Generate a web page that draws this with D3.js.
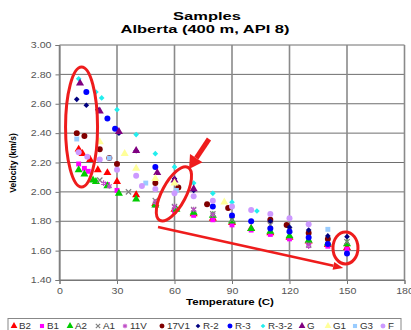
<!DOCTYPE html>
<html>
<head>
<meta charset="utf-8">
<script src="https://cdn.jsdelivr.net/npm/d3@7"></script>
<style>
  body { margin: 0; background: #fff; }
  text { font-family: "Liberation Sans", Arial, sans-serif; }
</style>
</head>
<body>
<div id="chart"></div>
<script>
// velocity (km/s) vs temperature (C), one array per sample
const B2   = [[10,2.29],[12,2.26],[16,2.22],[20,2.15],[25,2.13],[30,2.07],[40,1.98],[50,1.92],[60,1.88],[70,1.85],[80,1.82],[90,1.79],[100,1.75],[110,1.72],[120,1.69],[130,1.665],[140,1.64],[150,1.62]];
const B1   = [[10,2.19],[13,2.16],[15,2.14],[25,2.05],[30,2.01],[50,1.91],[60,1.87],[70,1.84],[80,1.81],[90,1.775],[100,1.74],[110,1.71],[120,1.68],[130,1.655],[140,1.63],[150,1.61]];
const A2   = [[10,2.15],[13,2.12],[17.5,2.08],[19,2.07],[25,2.04],[31,1.99],[40,1.95],[50,1.91],[61,1.88],[70,1.86],[80,1.84],[90,1.80],[100,1.75],[110,1.73],[120,1.70],[130,1.67],[140,1.65],[150,1.645]];
const A1   = [[21,2.08],[36,2.00],[50,1.94],[60,1.90],[70,1.88],[80,1.85],[90,1.81],[110,1.775],[120,1.74],[130,1.64],[150,1.66]];
const V11  = [[23,2.06],[26,2.04],[50,1.93],[60,1.90],[70,1.88],[80,1.845],[130,1.63]];
const V17  = [[9,2.40],[13,2.38],[21,2.29],[26,2.23],[30,2.19],[50,2.06],[62,2.03],[77,1.915],[88,1.89],[110,1.81],[118.5,1.775],[130,1.72],[140,1.68]];
const R2   = [[9,2.63],[14,2.59],[20,2.56],[31,2.40],[40,2.28],[60,2.09],[70,2.01],[110,1.80],[120,1.76],[130,1.74],[140,1.70],[150,1.695]];
const R3   = [[14,2.68],[25,2.50],[29,2.43],[50,2.17],[80,1.90],[90,1.84],[100,1.80],[110,1.75],[120,1.73],[130,1.69],[140,1.645],[150,1.58]];
const R32  = [[10,2.77],[19,2.68],[22,2.64],[30,2.56],[40,2.39],[50,2.26],[60,2.17],[70,2.06],[80,1.99],[90,1.93],[103,1.87]];
const G    = [[10.7,2.74],[21,2.55],[31,2.41],[40,2.28],[51,2.13],[60,2.08],[70,2.02]];
const G1   = [[21,2.34],[34,2.26],[40,2.16],[50,2.09],[60,2.06],[86,1.93]];
const G3   = [[9,2.36],[26,2.23],[45,2.06],[61,2.01],[140,1.745]];
const F    = [[10,2.27],[14.5,2.24],[21,2.22],[30,2.15],[40,2.11],[43,2.04],[50,2.02],[60,1.99],[70,1.97],[80,1.94],[90,1.90],[100,1.877],[110,1.85],[120,1.82],[130,1.78]];

const seriesNames = ["B2","B1","A2","A1","11V","17V1","R-2","R-3","R-3-2","G","G1","G3","F"];
const seriesData  = [B2, B1, A2, A1, V11, V17, R2, R3, R32, G, G1, G3, F];
const seriesColors = ["#ff0000","#ff00ff","#00cc00","#808080","#c050c8","#800000","#000080","#0000ff","#22eeee","#800080","#ffff99","#99ccff","#cc99ff"];
const seriesShapes = ["triangle","square","triangle","times","asterisk","circle","diamond","circle","diamond","triangle","triangle","square","circle"];

const xTicks = [0, 30, 60, 90, 120, 150, 180];
const yTicks = [1.4, 1.6, 1.8, 2.0, 2.2, 2.4, 2.6, 2.8, 3.0];

const width = 411, height = 330;
const svg = d3.select("#chart").append("svg")
  .attr("width", width).attr("height", height);

const x = d3.scaleLinear().domain([0, 180]).range([59.5, 404.5]);
const y = d3.scaleLinear().domain([1.4, 3.0]).range([280, 45]);

// stretch text horizontally (the picture is wider than tall text)
function stretch(sel, k) {
  sel.each(function () {
    const w = this.getComputedTextLength();
    d3.select(this).attr("textLength", w * k).attr("lengthAdjust", "spacingAndGlyphs");
  });
}

// gridlines
svg.append("g").selectAll("line").data(yTicks).join("line")
  .attr("x1", x(0)).attr("x2", x(180))
  .attr("y1", d => y(d)).attr("y2", d => y(d))
  .attr("stroke", "#6e6e6e").attr("stroke-width", 1);
svg.append("g").selectAll("line").data(xTicks).join("line")
  .attr("x1", d => x(d)).attr("x2", d => x(d))
  .attr("y1", y(1.4)).attr("y2", y(3.0))
  .attr("stroke", "#8a8a8a").attr("stroke-width", 1.6);

// axes
const yAxis = svg.append("g")
  .attr("transform", `translate(${x(0)},0)`)
  .call(d3.axisLeft(y).tickValues(yTicks).tickFormat(d3.format(".2f")).tickSize(4).tickPadding(4));
const xAxis = svg.append("g")
  .attr("transform", `translate(0,${y(1.4)})`)
  .call(d3.axisBottom(x).tickValues(xTicks).tickSize(4).tickPadding(4));
[xAxis, yAxis].forEach(a => {
  a.select(".domain").attr("stroke", "#777");
  a.selectAll(".tick line").attr("stroke", "#777");
  a.selectAll("text").attr("font-size", 8.5).attr("fill", "#555")
    .attr("font-family", "Liberation Sans, Arial, sans-serif");
  stretch(a.selectAll("text"), 1.25);
});

// points
function symbolOf(s) {
  return {
    triangle: d3.symbolTriangle, square: d3.symbolSquare, circle: d3.symbolCircle,
    diamond: d3.symbolSquare, times: d3.symbolTimes, asterisk: d3.symbolAsterisk
  }[s];
}
function sizeOf(s) {
  return { triangle: 28, square: 24, circle: 28, diamond: 16, times: 20, asterisk: 22 }[s];
}
function drawMark(sel, i, k = 1) {
  const s = seriesShapes[i];
  const stroked = s === "times" || s === "asterisk";
  sel.attr("d", d3.symbol().type(symbolOf(s)).size(sizeOf(s) * k))
    .attr("fill", stroked ? "none" : seriesColors[i])
    .attr("stroke", stroked ? seriesColors[i] : "none")
    .attr("stroke-width", stroked ? 1.2 : 0);
}
seriesData.forEach((data, i) => {
  const rot = seriesShapes[i] === "diamond" ? " rotate(45)" : "";
  svg.append("g").selectAll("path").data(data).join("path")
    .attr("transform", d => `translate(${x(d[0])},${y(d[1])})${rot}`)
    .call(drawMark, i);
});

// titles
svg.append("text").attr("x", 207).attr("y", 20).attr("text-anchor", "middle")
  .attr("font-size", 11).attr("font-weight", "bold").text("Samples")
  .call(stretch, 1.5);
svg.append("text").attr("x", 205).attr("y", 33).attr("text-anchor", "middle")
  .attr("font-size", 11).attr("font-weight", "bold").text("Alberta (400 m, API 8)")
  .call(stretch, 1.5);
svg.append("text").attr("x", 230).attr("y", 305).attr("text-anchor", "middle")
  .attr("font-size", 8.5).attr("font-weight", "bold").text("Temperature (C)")
  .call(stretch, 1.35);
svg.append("text").attr("transform", "translate(16,163) rotate(-90)").attr("text-anchor", "middle")
  .attr("font-size", 8.5).attr("font-weight", "bold").text("Velocity (km/s)");

// legend
const legendX = [14, 42, 70, 98, 125, 162, 198, 230, 263, 302, 328, 355, 383];
svg.append("rect").attr("x", 8).attr("y", 318.5).attr("width", 393).attr("height", 16)
  .attr("fill", "#fff").attr("stroke", "#888");
const lg = svg.append("g").selectAll("g").data(seriesNames).join("g")
  .attr("transform", (d, i) => `translate(${legendX[i]},326)`);
lg.append("path")
  .attr("transform", (d, i) => seriesShapes[i] === "diamond" ? "rotate(45)" : null)
  .each(function (d, i) { d3.select(this).call(drawMark, i, 0.7); });
lg.append("text").attr("x", 5).attr("y", 3.2).attr("font-size", 8.5).attr("fill", "#333")
  .text(d => d).call(stretch, 1.15);

// red annotations
const red = "#ee1c1c";
const ann = svg.append("g").attr("fill", "none").attr("stroke", red).attr("stroke-width", 3);
ann.append("ellipse").attr("cx", x(11.5)).attr("cy", y(2.442)).attr("rx", 16).attr("ry", 60);
ann.append("ellipse").attr("transform", `translate(${x(59.7)},${y(1.986)}) rotate(28)`)
  .attr("rx", 12).attr("ry", 30);
ann.append("ellipse").attr("cx", x(149.2)).attr("cy", y(1.618)).attr("rx", 12.5).attr("ry", 16);

function arrow(t0, v0, t1, v1, w, headL, headW) {
  const x0 = x(t0), y0 = y(v0), x1 = x(t1), y1 = y(v1);
  const a = Math.atan2(y1 - y0, x1 - x0);
  const bx = x1 - headL * Math.cos(a), by = y1 - headL * Math.sin(a);
  svg.append("line").attr("x1", x0).attr("y1", y0).attr("x2", bx).attr("y2", by)
    .attr("stroke", red).attr("stroke-width", w);
  const px = -Math.sin(a) * headW / 2, py = Math.cos(a) * headW / 2;
  svg.append("path")
    .attr("d", `M${x1},${y1}L${bx + px},${by + py}L${bx - px},${by - py}Z`)
    .attr("fill", red);
}
arrow(78, 2.36, 67.6, 2.156, 5, 13, 15);
arrow(51.4, 1.761, 148, 1.482, 2.5, 10, 8);
</script>
</body>
</html>
